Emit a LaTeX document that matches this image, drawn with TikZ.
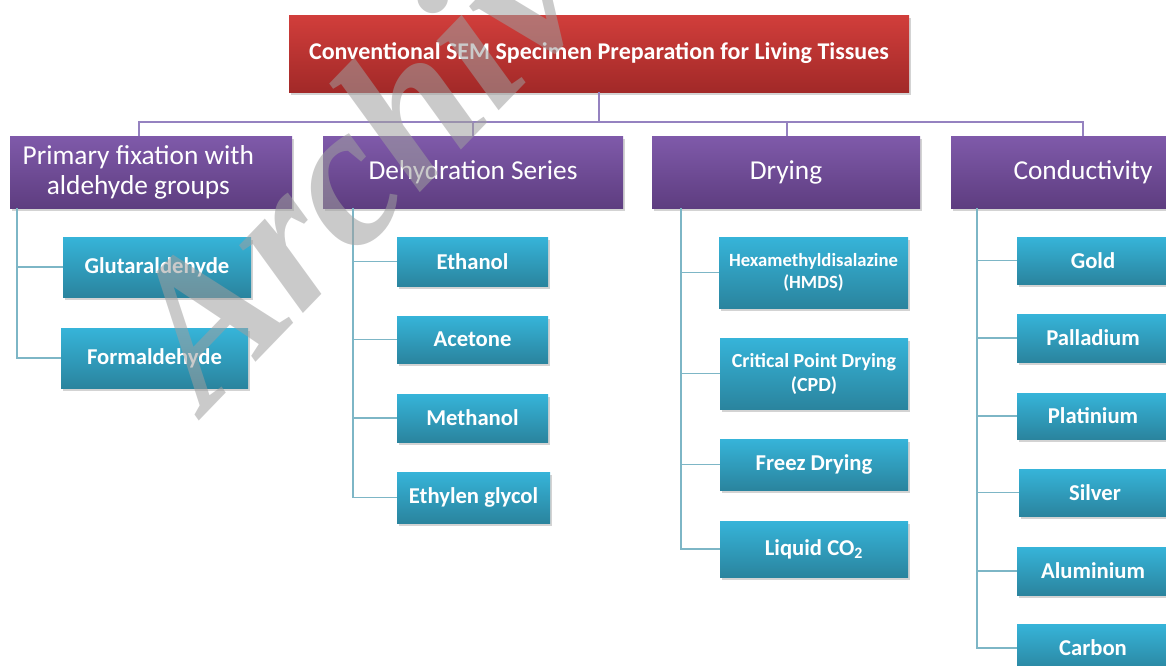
\documentclass[tikz,border=0pt]{standalone}
\usepackage{fontspec}
\setmainfont{Carlito}
\newfontfamily\wmfont{Liberation Serif}
\usetikzlibrary{shadows}
\definecolor{redT}{HTML}{D13E3B}
\definecolor{redB}{HTML}{A22928}
\definecolor{purT}{HTML}{7F5AAA}
\definecolor{purB}{HTML}{5E3D80}
\definecolor{bluT}{HTML}{36B4D9}
\definecolor{bluB}{HTML}{2A849E}
\definecolor{pline}{HTML}{9582C0}
\definecolor{tline}{HTML}{7DB6C6}
\begin{document}
\begin{tikzpicture}[x=0.75pt,y=-0.75pt,
 sz/.style 2 args={minimum width=#1*0.75pt, minimum height=#2*0.75pt},
 boxbase/.style={rectangle, inner sep=0pt, text=white, align=center, draw=none,
   drop shadow={shadow xshift=1.2pt, shadow yshift=-2pt, opacity=0.35}},
 titlebox/.style={boxbase, top color=redT, bottom color=redB, font=\fontsize{18}{21}\selectfont\bfseries},
 catbox/.style={boxbase, top color=purT, bottom color=purB, font=\fontsize{20.5}{22.5}\selectfont},
 itembox/.style={boxbase, top color=bluT, bottom color=bluB, font=\fontsize{17}{19}\selectfont\bfseries},
 hmdsitem/.style={itembox, font=\fontsize{14}{16.5}\selectfont\bfseries},
 cpditem/.style={itembox, font=\fontsize{15}{18}\selectfont\bfseries},
 purline/.style={draw=pline, line width=1.1pt},
 tealline/.style={draw=tline, line width=1.3pt},
]
\useasboundingbox (0,0) rectangle (1166,665);
\clip (0,0) rectangle (1166,665);

% coordinates for the bus and the column spines
\coordinate (bus1) at (139,122);
\coordinate (bus2) at (473,122);
\coordinate (bus3) at (787,122);
\coordinate (bus4) at (1083,122);
\coordinate (v1) at (17,0);
\coordinate (v2) at (353,0);
\coordinate (v3) at (681,0);
\coordinate (v4) at (977,0);

% title
\node[titlebox, sz={620}{77}] (t) at (599,53.5) {Conventional SEM Specimen Preparation for Living Tissues};

% categories
\node[catbox, sz={282}{72}] (p1) at (151,172) {\hspace*{-19pt}Primary fixation with\\\hspace*{-19pt}aldehyde groups};
\node[catbox, sz={300}{72}] (p2) at (473,172) {Dehydration Series};
\node[catbox, sz={268}{72}] (p3) at (786,172) {Drying};
\node[catbox, sz={264}{72}] (p4) at (1083,172) {Conductivity};

% column 1
\node[itembox, sz={188}{60}] (c11) at (157,267) {Glutaraldehyde};
\node[itembox, sz={187}{60}] (c12) at (154.5,358) {Formaldehyde};

% column 2
\node[itembox, sz={151}{49}] (c21) at (472.5,261.5) {Ethanol};
\node[itembox, sz={151}{47}] (c22) at (472.5,339.5) {Acetone};
\node[itembox, sz={151}{48}] (c23) at (472.5,418) {Methanol};
\node[itembox, sz={153}{51}] (c24) at (473.5,497.5) {Ethylen glycol};

% column 3
\node[hmdsitem, sz={189}{71}] (c31) at (813.5,272.5) {Hexamethyldisalazine\\(HMDS)};
\node[cpditem, sz={188}{71}] (c32) at (814,373.5) {Critical Point Drying\\(CPD)};
\node[itembox, sz={188}{51}] (c33) at (814,464.5) {Freez Drying};
\node[itembox, sz={188}{56}] (c34) at (814,549) {Liquid CO\textsubscript{2}};

% column 4
\node[itembox, sz={152}{47}] (c41) at (1093,260.5) {Gold};
\node[itembox, sz={152}{48}] (c42) at (1093,338) {Palladium};
\node[itembox, sz={152}{46}] (c43) at (1093,416) {Platinium};
\node[itembox, sz={152}{47}] (c44) at (1095,492.5) {Silver};
\node[itembox, sz={152}{48}] (c45) at (1093,571) {Aluminium};
\node[itembox, sz={152}{48}] (c46) at (1093,648) {Carbon};

% top connectors
\draw[purline] (t.south) -- (t.south |- bus1);
\draw[purline] (bus1 |- p1.north) -- (bus1) -- (bus4) -- (bus4 |- p4.north);
\draw[purline] (bus2) -- (bus2 |- p2.north);
\draw[purline] (bus3) -- (bus3 |- p3.north);

% column spines
\draw[tealline] (v1 |- p1.south) |- (c12.west);
\draw[tealline] (v1 |- c11.west) -- (c11.west);

\draw[tealline] (v2 |- p2.south) |- (c24.west);
\foreach \n in {c21,c22,c23} \draw[tealline] (v2 |- \n.west) -- (\n.west);

\draw[tealline] (v3 |- p3.south) |- (c34.west);
\foreach \n in {c31,c32,c33} \draw[tealline] (v3 |- \n.west) -- (\n.west);

\draw[tealline] (v4 |- p4.south) |- (c46.west);
\foreach \n in {c41,c42,c43,c44,c45} \draw[tealline] (v4 |- \n.west) -- (\n.west);

% watermark
\node[font=\wmfont\bfseries\itshape\fontsize{152}{152}\selectfont, text=gray!75, opacity=0.55,
  rotate=46, anchor=base west, inner sep=0pt] (wm) at (206,414) {Archive};
\end{tikzpicture}
\end{document}
